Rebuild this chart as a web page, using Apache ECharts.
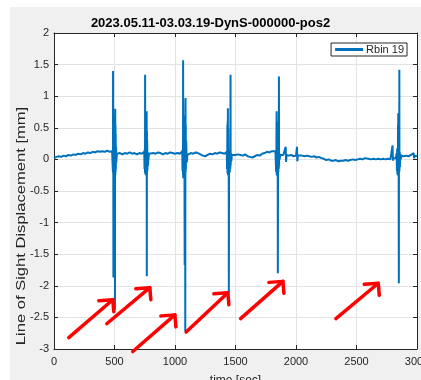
<!DOCTYPE html>
<html>
<head>
<meta charset="utf-8">
<script src="https://cdn.jsdelivr.net/npm/echarts@6/dist/echarts.min.js"></script>
<style>
html,body{margin:0;padding:0;background:#fff;}
#chart{width:421px;height:380px;}
</style>
</head>
<body>
<div id="chart"></div>
<script>
// ---- data ----
const titleText = '2023.05.11-03.03.19-DynS-000000-pos2';
const seriesName = 'Rbin 19';
const xLabelText = 'time [sec]';
const yLabelText = 'Line of Sight Displacement [mm]';
const xTicks = [0, 500, 1000, 1500, 2000, 2500, 3000];
const yTicks = [-3, -2.5, -2, -1.5, -1, -0.5, 0, 0.5, 1, 1.5, 2];

const timeSec = [
  0,20,40,60,80,100,120,140,160,180,200,220,240,260,280,300,320,340,360,380,400,420,440,460,480,
  486,487,488,489,490,491,492,493,494,495,496,497,499,500,501,502,503,504,505,506,507,508,509,510,511,513,515,518,522,
  525,545,565,585,605,625,645,665,685,705,725,740,
  746,748,750,752,753,754,756,758,760,761,762,763,764,765,766,767,768,769,770,772,774,777,781,786,
  800,820,840,860,880,900,920,940,960,980,1000,1020,1040,1055,
  1060,1062,1064,1066,1067,1068,1070,1072,1074,1076,1078,1080,1082,1083,1084,1085,1086,1087,1088,1089,1090,1092,1095,1098,1102,
  1110,1130,1150,1170,1190,1210,1230,1250,1270,1290,1310,1330,1350,1370,1390,1410,1425,
  1428,1430,1432,1433,1434,1435,1436,1437,1438,1439,1440,1442,1444,1445,1447,1449,1451,1453,1455,1457,1459,1460,1462,1465,1470,
  1480,1500,1520,1540,1560,1580,1600,1620,1640,1660,1680,1700,1720,1740,1760,1780,1800,1815,1830,
  1834,1836,1838,1839,1840,1841,1842,1843,1844,1845,1847,1849,1850,1852,1854,1856,1858,1859,1860,1862,1865,1870,
  1880,1895,1910,1915,1918,1922,1940,1960,1980,2000,2008,2011,2015,2030,2050,2070,2090,2110,2130,2150,2170,2190,2210,2230,2250,2270,2290,2310,2330,2350,2370,2390,2410,2430,2450,2470,2490,2510,2530,2550,2570,2585,2600,2620,2640,2660,2680,2700,2720,2740,2760,2780,2795,2798,2801,2805,2815,2825,
  2832,2834,2836,2838,2840,2842,2843,2844,2845,2846,2847,2848,2850,2851,2853,2854,2855,2857,2859,2862,2866,2872,
  2890,2910,2930,2950,2965,2972,2976,2985,3000
];
const dispMm = [
  0.02,0.04,0.05,0.04,0.06,0.05,0.07,0.06,0.08,0.07,0.09,0.08,0.10,0.09,0.11,0.10,0.12,0.11,0.13,0.12,0.13,0.12,0.14,0.12,0.13,
  0.12,-0.20,1.40,-0.22,0.18,-1.87,0.20,-0.25,0.18,-0.30,0.20,-0.25,0.18,-0.20,0.60,-0.25,0.50,-2.38,0.65,0.80,-0.25,0.55,-0.20,0.40,-0.15,0.20,-0.05,0.05,0.09,
  0.09,0.10,0.08,0.10,0.09,0.11,0.09,0.10,0.08,0.10,0.09,0.10,
  0.12,-0.15,0.16,-0.22,1.34,-0.20,0.17,-0.25,0.15,0.55,-0.20,0.60,-0.22,0.50,0.76,-1.85,0.45,-0.20,0.30,-0.18,0.12,-0.10,0.03,0.09,
  0.08,0.10,0.09,0.11,0.10,0.08,0.10,0.09,0.11,0.10,0.09,0.10,0.09,0.10,
  0.13,-0.18,0.17,-0.24,1.57,-0.30,0.18,-0.28,0.17,-0.25,0.15,-1.67,0.60,-0.25,0.70,-2.72,0.80,0.97,-0.20,0.55,-0.15,0.30,0.10,-0.05,0.07,
  0.08,0.10,0.09,0.11,0.10,0.08,0.06,0.05,0.07,0.09,0.08,0.10,0.09,0.11,0.10,0.09,0.10,
  0.12,-0.15,0.16,0.55,-0.22,0.60,0.18,0.81,-0.25,0.50,0.17,-0.24,0.16,-2.11,0.15,-0.22,0.14,-0.20,0.13,-0.15,1.34,-0.10,0.10,-0.03,0.07,
  0.08,0.07,0.08,0.07,0.06,0.08,0.05,0.04,0.03,0.05,0.07,0.06,0.09,0.10,0.12,0.11,0.13,0.14,0.13,
  0.12,-0.20,0.18,0.55,0.76,-0.25,0.60,0.17,0.45,-0.26,0.16,-0.22,-1.80,0.15,-0.20,0.13,-0.15,1.31,-0.10,0.10,0.00,0.07,
  0.08,0.07,0.08,0.20,-0.04,0.07,0.06,0.07,0.05,0.06,0.20,-0.03,0.06,0.07,0.06,0.05,0.06,0.05,0.04,0.05,0.03,0.04,0.02,0.01,-0.01,0.00,-0.02,-0.02,-0.01,-0.03,-0.02,-0.02,-0.01,-0.02,-0.01,0.00,-0.01,0.00,0.01,0.00,0.02,0.04,0.01,0.00,0.01,0.00,0.01,0.00,0.01,0.00,0.01,0.00,0.02,0.22,-0.02,0.02,0.03,0.02,
  0.10,-0.18,0.17,-0.24,0.18,-0.25,0.55,-0.20,0.73,-0.26,0.50,0.17,-1.96,0.16,-0.20,1.42,-0.18,0.12,-0.12,0.09,0.00,0.06,
  0.05,0.06,0.05,0.07,0.05,0.10,0.02,0.06,0.05
];

// red annotation arrows: [tailTime, tailValue, headTime, headValue]
const arrowTail = [[122,-2.82],[436,-2.60],[651,-3.04],[1092,-2.73],[1542,-2.52],[2330,-2.52]];
const arrowHead = [[486,-2.22],[792,-2.03],[999,-2.46],[1437,-2.11],[1892,-1.93],[2680,-1.96]];

// ---- build ----
const lineData = timeSec.map((t, i) => [t, dispMm[i]]);
const arrowData = arrowTail.map((a, i) => [a[0], a[1], arrowHead[i][0], arrowHead[i][1]]);

const FONT = '"Liberation Sans", Arial, Helvetica, sans-serif';
const AX = '#262626';
const GRIDC = '#e3e3e3';

const chart = echarts.init(document.getElementById('chart'), null, {renderer: 'canvas'});
chart.setOption({
  animation: false,
  backgroundColor: '#ffffff',
  textStyle: {fontFamily: FONT},
  graphic: [{
    type: 'rect', left: 10, top: 7, z: -100, silent: true,
    shape: {width: 411, height: 373},
    style: {fill: '#f0f0f0'}
  }, {
    type: 'text', x: 22, y: 226, rotation: Math.PI / 2, scaleX: 1.38, silent: true, z: 5,
    style: {text: yLabelText, fill: AX, font: '12px ' + FONT, align: 'center', verticalAlign: 'middle'}
  }],
  title: {
    text: titleText, left: 'center', top: 17, padding: 0,
    textStyle: {fontFamily: FONT, fontSize: 13, fontWeight: 'bold', color: '#000'}
  },
  legend: {
    data: [seriesName], right: 14, top: 43,
    backgroundColor: '#fff', borderColor: AX, borderWidth: 1, borderRadius: 0,
    padding: [1, 3, 1, 4], itemWidth: 28, itemHeight: 3, itemGap: 4,
    icon: 'rect',
    textStyle: {fontFamily: FONT, fontSize: 11, color: AX, padding: [0,0,0,-2]}
  },
  grid: {left: 54, right: 4, top: 33, bottom: 31, show: true, backgroundColor: '#fff', borderWidth: 0, containLabel: false, outerBoundsMode: 'none'},
  xAxis: [{
    type: 'value', min: xTicks[0], max: xTicks[xTicks.length-1], interval: 500,
    name: xLabelText, nameLocation: 'middle', nameGap: 26,
    nameTextStyle: {fontFamily: FONT, fontSize: 12, color: AX},
    axisLine: {show: true, onZero: false, lineStyle: {color: AX, width: 1}},
    axisTick: {show: true, inside: true, length: 4, lineStyle: {color: AX}},
    axisLabel: {fontFamily: FONT, fontSize: 11, color: AX, margin: 7, showMaxLabel: true, showMinLabel: true,
      alignMaxLabel: 'center', alignMinLabel: 'center', formatter: v => String(v)},
    splitLine: {show: true, lineStyle: {color: GRIDC, width: 1}}
  }, {
    type: 'value', position: 'top', min: xTicks[0], max: xTicks[xTicks.length-1], interval: 500,
    axisLine: {show: true, onZero: false, lineStyle: {color: AX, width: 1}},
    axisTick: {show: true, inside: true, length: 4, lineStyle: {color: AX}},
    axisLabel: {show: false}, splitLine: {show: false}
  }],
  yAxis: [{
    type: 'value', min: yTicks[0], max: yTicks[yTicks.length-1], interval: 0.5,
    axisLine: {show: true, onZero: false, lineStyle: {color: AX, width: 1}},
    axisTick: {show: true, inside: true, length: 4, lineStyle: {color: AX}},
    axisLabel: {fontFamily: FONT, fontSize: 11, color: AX, margin: 5, formatter: v => String(v)},
    splitLine: {show: true, lineStyle: {color: GRIDC, width: 1}}
  }, {
    type: 'value', position: 'right', min: yTicks[0], max: yTicks[yTicks.length-1], interval: 0.5,
    axisLine: {show: true, onZero: false, lineStyle: {color: AX, width: 1}},
    axisTick: {show: true, inside: true, length: 4, lineStyle: {color: AX}},
    axisLabel: {show: false}, splitLine: {show: false}
  }],
  series: [{
    name: seriesName, type: 'line', data: lineData,
    xAxisIndex: 0, yAxisIndex: 0,
    showSymbol: false, symbol: 'none', smooth: false,
    lineStyle: {color: '#0072BD', width: 2},
    itemStyle: {color: '#0072BD'}
  }, {
    name: 'arrows', type: 'custom', data: arrowData, clip: false, silent: true, z: 10,
    encode: {x: [0, 2], y: [1, 3]},
    renderItem: function (params, api) {
      const p1 = api.coord([api.value(0), api.value(1)]);
      const p2 = api.coord([api.value(2), api.value(3)]);
      const st = {stroke: '#ff0000', lineWidth: 3.5, lineCap: 'round', lineJoin: 'round', fill: 'none'};
      return {
        type: 'group',
        children: [
          {type: 'line', shape: {x1: p1[0], y1: p1[1], x2: p2[0], y2: p2[1]}, style: st},
          {type: 'polyline', shape: {points: [[p2[0] - 14, p2[1] + 1], [p2[0], p2[1]], [p2[0] + 1, p2[1] + 12]]}, style: st}
        ]
      };
    }
  }]
});
</script>
</body>
</html>
